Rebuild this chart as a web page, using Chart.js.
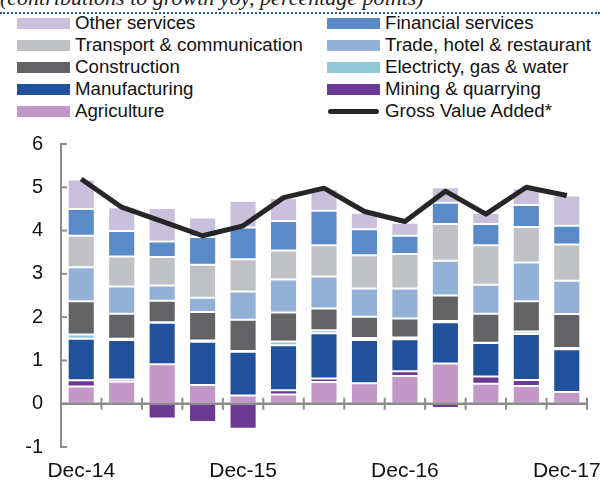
<!DOCTYPE html>
<html>
<head>
<meta charset="utf-8">
<script src="https://cdn.jsdelivr.net/npm/chart.js@4/dist/chart.umd.min.js"></script>
<style>
  html, body { margin: 0; padding: 0; background: #fff; }
  #wrap { position: relative; width: 600px; height: 480px; overflow: hidden; font-family: "Liberation Sans", Arial, sans-serif; }
  #title { position: absolute; left: 0; top: -13px; font-family: "Liberation Serif", "Times New Roman", serif; font-style: italic; font-size: 22px; line-height: 22px; color: #222; white-space: nowrap; }
  #rule { position: absolute; left: 0; top: 12px; width: 600px; border-top: 2px dotted #3556a6; }
  .lg { position: absolute; font-size: 18.7px; line-height: 20px; color: #111; white-space: nowrap; }
  .sw { position: absolute; width: 53px; height: 11px; }
  .ln { position: absolute; width: 51px; height: 5px; border-radius: 3px; background: #262626; }
  canvas { position: absolute; left: 0; top: 0; }
</style>
</head>
<body>
<div id="wrap">
  <div id="title">(contributions to growth yoy, percentage points)</div>
  <div id="rule"></div>
  <div id="legend"></div>
  <canvas id="c" width="600" height="480"></canvas>
</div>
<script>
const categories = ['Dec-14','Mar-15','Jun-15','Sep-15','Dec-15','Mar-16','Jun-16','Sep-16','Dec-16','Mar-17','Jun-17','Sep-17','Dec-17'];
const shownLabels = ['Dec-14','Dec-15','Dec-16','Dec-17'];
const yTicks = [-1,0,1,2,3,4,5,6];

const agriculture   = [0.40,0.51,0.91,0.43,0.19,0.21,0.50,0.47,0.64,0.93,0.46,0.41,0.27];
const mining        = [0.14,0.05,-0.34,-0.42,-0.58,0.10,0.08,0.00,0.11,-0.10,0.17,0.14,0.00];
const manufacturing = [0.96,0.91,0.96,1.00,1.01,1.04,1.05,1.00,0.74,0.95,0.77,1.06,0.99];
const electricity   = [0.10,0.03,0.01,0.03,0.02,0.09,0.07,0.05,0.04,0.03,0.01,0.06,0.03];
const construction  = [0.77,0.58,0.50,0.66,0.72,0.67,0.50,0.49,0.44,0.59,0.67,0.70,0.78];
const trade         = [0.78,0.63,0.35,0.33,0.65,0.76,0.74,0.65,0.69,0.80,0.67,0.89,0.77];
const transport     = [0.73,0.69,0.66,0.76,0.75,0.67,0.72,0.77,0.80,0.85,0.91,0.82,0.84];
const financial     = [0.62,0.59,0.36,0.64,0.73,0.68,0.80,0.60,0.42,0.49,0.49,0.51,0.43];
const otherServices = [0.68,0.55,0.77,0.45,0.62,0.53,0.50,0.38,0.30,0.36,0.26,0.39,0.70];
const gva           = [5.19,4.54,4.21,3.88,4.11,4.76,4.98,4.44,4.21,4.91,4.38,5.00,4.81];

const colors = {
  other: '#c9c0dc', financial: '#5a8ac8', transport: '#c0c1c4', trade: '#93b0d6',
  construction: '#636365', electricity: '#93c8d8', manufacturing: '#22519b',
  mining: '#6c3a92', agriculture: '#c397c7', gva: '#262626'
};

// HTML legend (two columns)
const legendItems = [
  ['Other services', colors.other, 0, 0], ['Financial services', colors.financial, 1, 0],
  ['Transport & communication', colors.transport, 0, 1], ['Trade, hotel & restaurant', colors.trade, 1, 1],
  ['Construction', colors.construction, 0, 2], ['Electricty, gas & water', colors.electricity, 1, 2],
  ['Manufacturing', colors.manufacturing, 0, 3], ['Mining & quarrying', colors.mining, 1, 3],
  ['Agriculture', colors.agriculture, 0, 4], ['Gross Value Added*', null, 1, 4]
];
const lg = document.getElementById('legend');
legendItems.forEach(([txt, col, c, r]) => {
  const cy = 23 + r * 22;
  const sx = c === 0 ? 17 : 327;
  const sw = document.createElement('div');
  if (col) { sw.className = 'sw'; sw.style.background = col; sw.style.left = sx + 'px'; sw.style.top = (cy - 5.5) + 'px'; }
  else { sw.className = 'ln'; sw.style.left = (sx + 1) + 'px'; sw.style.top = (cy - 2.5) + 'px'; }
  lg.appendChild(sw);
  const t = document.createElement('div');
  t.className = 'lg'; t.textContent = txt;
  t.style.left = (sx + 58) + 'px'; t.style.top = (cy - 10) + 'px';
  lg.appendChild(t);
});

function barDs(label, data, color) {
  return { type: 'bar', label, data, backgroundColor: color, borderColor: 'rgba(255,255,255,0.55)', borderWidth: 1, borderSkipped: false, stack: 'gdp', order: 2, barPercentage: 0.67, categoryPercentage: 1.0 };
}

const axisColor = '#8c8c8c';
const axisPlugin = {
  id: 'axisDecor',
  beforeDatasetsDraw(chart) {
    const ctx = chart.ctx, y = chart.scales.y;
    ctx.save();
    ctx.strokeStyle = axisColor; ctx.lineWidth = 2;
    yTicks.forEach(v => {
      const py = y.getPixelForValue(v);
      ctx.beginPath(); ctx.moveTo(chart.chartArea.left, py); ctx.lineTo(chart.chartArea.left + 6, py); ctx.stroke();
    });
    ctx.restore();
  },
  afterDatasetsDraw(chart) {
    const ctx = chart.ctx, x = chart.scales.x, y = chart.scales.y;
    const y0 = y.getPixelForValue(0);
    ctx.save();
    ctx.strokeStyle = axisColor; ctx.lineWidth = 2.5;
    ctx.beginPath(); ctx.moveTo(chart.chartArea.left, y0); ctx.lineTo(chart.chartArea.right, y0); ctx.stroke();
    ctx.lineWidth = 2;
    const half = (x.getPixelForValue(1) - x.getPixelForValue(0)) / 2;
    for (let i = 0; i < categories.length; i++) {
      const px = x.getPixelForValue(i) + half;
      ctx.beginPath(); ctx.moveTo(px, y0 - 6); ctx.lineTo(px, y0 + 6); ctx.stroke();
    }
    ctx.restore();
  }
};

new Chart(document.getElementById('c'), {
  data: {
    labels: categories,
    datasets: [
      barDs('Agriculture', agriculture, colors.agriculture),
      barDs('Mining & quarrying', mining, colors.mining),
      barDs('Manufacturing', manufacturing, colors.manufacturing),
      barDs('Electricty, gas & water', electricity, colors.electricity),
      barDs('Construction', construction, colors.construction),
      barDs('Trade, hotel & restaurant', trade, colors.trade),
      barDs('Transport & communication', transport, colors.transport),
      barDs('Financial services', financial, colors.financial),
      barDs('Other services', otherServices, colors.other),
      { type: 'line', label: 'Gross Value Added*', data: gva, borderColor: colors.gva, borderWidth: 5, pointRadius: 0, tension: 0, stack: 'gva', order: 1, fill: false, borderJoinStyle: 'round', borderCapStyle: 'butt' }
    ]
  },
  options: {
    responsive: false,
    animation: false,
    layout: { padding: { top: 144, right: 13, bottom: 0, left: 0 } },
    plugins: { legend: { display: false }, tooltip: { enabled: false } },
    scales: {
      x: {
        stacked: true,
        grid: { display: false, drawTicks: false },
        border: { display: false },
        afterFit: (s) => { s.height = 33; s.paddingRight = 0; s.paddingLeft = 0; },
        ticks: {
          autoSkip: false, maxRotation: 0, padding: 12,
          color: '#111', font: { family: '"Liberation Sans", Arial, sans-serif', size: 21 },
          callback: (v, i) => shownLabels.includes(categories[i]) ? categories[i] : ''
        }
      },
      y: {
        stacked: true, min: -1, max: 6,
        afterBuildTicks: (s) => { s.ticks = yTicks.map(v => ({ value: v })); },
        afterFit: (s) => { s.width = 61; },
        grid: { display: false, drawTicks: false },
        border: { display: true, color: axisColor, width: 2 },
        ticks: { padding: 18, color: '#111', font: { family: '"Liberation Sans", Arial, sans-serif', size: 20 } }
      }
    }
  },
  plugins: [axisPlugin]
});
</script>
</body>
</html>
